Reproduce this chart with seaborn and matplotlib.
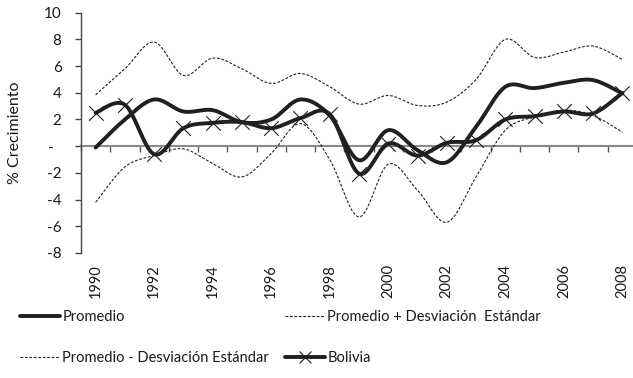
import numpy as np
import pandas as pd
import matplotlib
matplotlib.use("Agg")
import matplotlib.pyplot as plt
from matplotlib.lines import Line2D
from matplotlib.ticker import FixedLocator, NullFormatter
import seaborn as sns

# Annual growth (%) 1990-2008
years = list(range(1990, 2009))
promedio = [-0.1, 2.0, 3.5, 2.6, 2.7, 1.8, 2.0, 3.5, 2.3, -1.05, 1.2, -0.3,
            -1.2, 1.45, 4.45, 4.35, 4.75, 4.95, 3.95]
prom_mas_de = [3.85, 5.8, 7.8, 5.3, 6.6, 5.8, 4.7, 5.45, 4.45, 3.15, 3.8, 3.05,
               3.3, 5.0, 8.0, 6.65, 7.05, 7.5, 6.5]
prom_menos_de = [-4.2, -1.55, -0.7, -0.2, -1.3, -2.3, -0.55, 1.7, -1.0, -5.3, -1.35,
                 -3.3, -5.7, -2.3, 1.2, 2.2, 2.7, 2.3, 1.05]
bolivia = [2.5, 3.1, -0.6, 1.35, 1.75, 1.8, 1.35, 2.1, 2.4, -2.05, 0.2, -0.7,
           0.25, 0.45, 2.0, 2.25, 2.6, 2.45, 4.0]

y_ticks = [10, 8, 6, 4, 2, 0, -2, -4, -6, -8]
y_tick_labels = ["10", "8", "6", "4", "2", "-  ", "-2", "-4", "-6", "-8"]
x_tick_labels = [str(y) for y in years[::2]]

LBL_PROM = "Promedio"
LBL_MAS = "Promedio + Desviación  Estándar"
LBL_MENOS = "Promedio - Desviación Estándar"
LBL_BOL = "Bolivia"


def smooth(xs, ys, n=24):
    """Cubic Bezier (Catmull-Rom) smoothing like a spreadsheet 'smoothed line'."""
    xs = np.asarray(xs, float)
    ys = np.asarray(ys, float)
    px = np.concatenate([[xs[0]], xs, [xs[-1]]])
    py = np.concatenate([[ys[0]], ys, [ys[-1]]])
    out_x, out_y = [], []
    t = np.linspace(0, 1, n, endpoint=False)
    for i in range(1, len(px) - 2):
        p0 = np.array([px[i], py[i]])
        p3 = np.array([px[i + 1], py[i + 1]])
        c1 = p0 + (np.array([px[i + 1], py[i + 1]]) - np.array([px[i - 1], py[i - 1]])) / 6
        c2 = p3 - (np.array([px[i + 2], py[i + 2]]) - np.array([px[i], py[i]])) / 6
        b = ((1 - t) ** 3)[:, None] * p0 + (3 * (1 - t) ** 2 * t)[:, None] * c1 \
            + (3 * (1 - t) * t ** 2)[:, None] * c2 + (t ** 3)[:, None] * p3
        out_x.extend(b[:, 0])
        out_y.extend(b[:, 1])
    out_x.append(xs[-1])
    out_y.append(ys[-1])
    return np.array(out_x), np.array(out_y)


sns.set_theme(style="white")
plt.rcParams["font.family"] = ["Lato", "DejaVu Sans"]

W, H = 633, 378
fig = plt.figure(figsize=(W / 100, H / 100), dpi=100)
ax = fig.add_axes([81 / W, 1 - 253 / H, (637 - 81) / W, (253 - 12.7) / H])

ink = "#231f20"
txt = "#1a1a1a"
idx = np.arange(len(years))
dash = (0, (2.5, 1.5))

series = [
    (LBL_MAS, prom_mas_de, 0.8, dash),
    (LBL_MENOS, prom_menos_de, 0.8, dash),
    (LBL_PROM, promedio, 2.8, "-"),
    (LBL_BOL, bolivia, 2.8, "-"),
]

for name, vals, lw, ls in series:
    sx, sy = smooth(idx, vals)
    df = pd.DataFrame({"x": sx, "y": sy})
    sns.lineplot(data=df, x="x", y="y", ax=ax, color=ink, linewidth=lw,
                 linestyle=ls, sort=False, estimator=None,
                 solid_capstyle="round", zorder=3)

dfb = pd.DataFrame({"x": idx, "y": bolivia})
sns.scatterplot(data=dfb, x="x", y="y", ax=ax, marker="x", s=110, color=ink,
                linewidth=0.8, zorder=4)

ax.set_xlim(-0.5, len(years) - 0.5)
ax.set_ylim(-8, 10)

# value axis
ax.set_yticks(y_ticks)
ax.set_yticklabels(y_tick_labels)
ax.tick_params(axis="y", which="both", left=True, length=4, width=1, color="#444444",
               pad=10, labelsize=11, labelcolor=txt)
ax.set_ylabel("% Crecimiento", fontsize=11.5, color=txt)
ax.yaxis.set_label_coords(-0.106, 0.5)

# category axis crossing at zero, ticks between categories, labels below the plot
for s in ["top", "right"]:
    ax.spines[s].set_visible(False)
ax.spines["left"].set_color("#444444")
ax.spines["left"].set_linewidth(1)
ax.spines["bottom"].set_position(("data", 0))
ax.spines["bottom"].set_color("#8a8a8a")
ax.spines["bottom"].set_linewidth(1.5)
ax.spines["bottom"].set_zorder(2)
ax.set_xticks(idx[::2])
ax.set_xticklabels(x_tick_labels, rotation=90)
ax.xaxis.set_minor_locator(FixedLocator(np.arange(-0.5, len(years), 1.0)))
ax.xaxis.set_minor_formatter(NullFormatter())
ax.tick_params(axis="x", which="major", bottom=True, length=0, pad=85,
               labelsize=10.5, labelcolor=txt)
ax.tick_params(axis="x", which="minor", bottom=True, length=4, width=1,
               color="#555555", direction="out")
ax.set_xlabel("")

# legend in two columns under the chart
fs = 10.5
h_prom = Line2D([], [], color=ink, lw=2.8)
h_mas = Line2D([], [], color=ink, lw=0.8, ls=dash)
h_menos = Line2D([], [], color=ink, lw=0.8, ls=dash)
h_bol = Line2D([], [], color=ink, lw=2.8, marker="x", markersize=8, markeredgewidth=0.8)

leg_kw = dict(frameon=False, fontsize=fs, handlelength=2.75, handletextpad=0.15,
              labelspacing=1.85, borderaxespad=0, borderpad=0,
              labelcolor=txt, loc="upper left")
fig.legend([h_prom, h_menos], [LBL_PROM, LBL_MENOS],
           bbox_to_anchor=(20 / W, 1 - 310 / H), **leg_kw)
fig.legend([h_mas, h_bol], [LBL_MAS, LBL_BOL],
           bbox_to_anchor=(285 / W, 1 - 310 / H), **leg_kw)

fig.savefig("out.png", dpi=100, facecolor="white")
